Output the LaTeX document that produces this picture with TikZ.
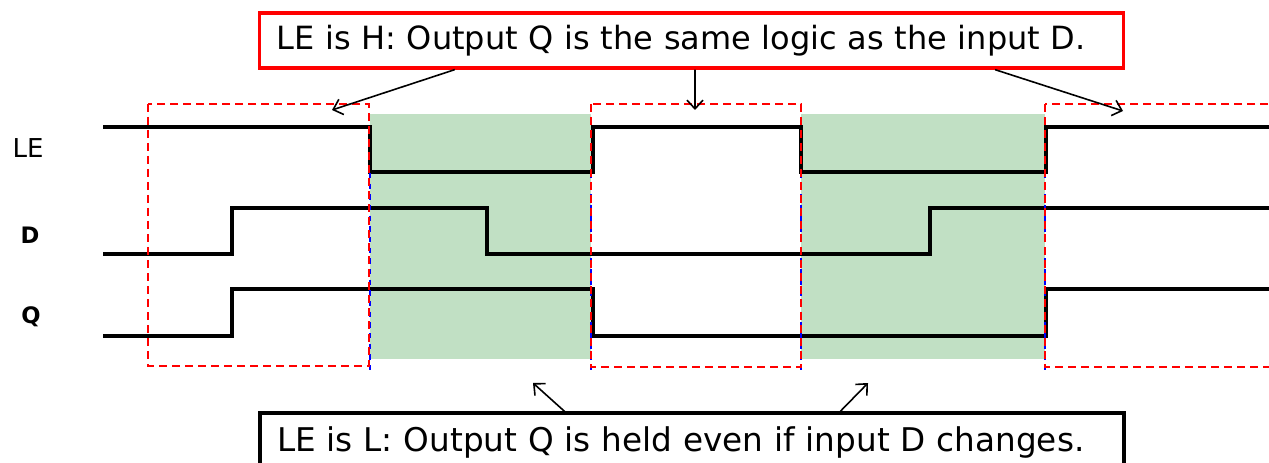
\documentclass[tikz,border=0pt]{standalone}
\usepackage{fontspec}
\setmainfont{DejaVu Sans}
\usetikzlibrary{arrows.meta,calc}
\definecolor{holdgreen}{RGB}{193,224,196}
\tikzset{every picture/.style={line width=0.75pt}}
\tikzset{
	signal/.style={line width=3pt, line join=miter},
	window/.style={draw=red, line width=1.5pt, dash pattern={on 6pt off 3.75pt}},
	edgemark/.style={draw=blue, line width=1pt, dash pattern={on 4pt off 4pt}},
	pointer/.style={line width=1.2pt, -{Straight Barb[length=6.5pt,width=12pt,line width=1.2pt]}},
	notebox/.style={line width=2.5pt, fill=white, inner xsep=12.75pt, text width=622.5pt, align=left, font=\fontsize{24.5}{28}\selectfont},
	siglabel/.style={font=\fontsize{17}{20}\selectfont\bfseries}
}

\begin{document}
\begin{tikzpicture}[x=0.75pt,y=0.75pt,yscale=-1,xscale=1]
	\clip (0,0) rectangle (1269,463);

	%Shape: Rectangle [id:hold1] 
	\fill [holdgreen] (370,114) rectangle (591,359) ;
	%Shape: Rectangle [id:hold2] 
	\fill [holdgreen] (801,114) rectangle (1045,359) ;

	%Straight Lines [id:sigLE] 
	\draw [signal] (103,127) -- (370,127) -- (370,172) -- (593,172) -- (593,127) -- (801,127) -- (801,172) -- (1046,172) -- (1046,127) -- (1275,127) ;
	%Straight Lines [id:sigD] 
	\draw [signal] (103,254) -- (232,254) -- (232,208) -- (487,208) -- (487,254) -- (930,254) -- (930,208) -- (1275,208) ;
	%Straight Lines [id:sigQ] 
	\draw [signal] (103,336) -- (232,336) -- (232,289) -- (593,289) -- (593,336) -- (1046,336) -- (1046,289) -- (1275,289) ;

	%Straight Lines [id:edge1] 
	\draw [edgemark] (370,173) -- (370,370) ;
	%Straight Lines [id:edge2] 
	\draw [edgemark] (591,173) -- (591,370) ;
	%Straight Lines [id:edge3] 
	\draw [edgemark] (801,173) -- (801,370) ;
	%Straight Lines [id:edge4] 
	\draw [edgemark] (1045,173) -- (1045,370) ;

	%Shape: Rectangle [id:win1] 
	\draw [window] (148,104) rectangle (369,366) ;
	%Shape: Rectangle [id:win2] 
	\draw [window] (591,104) rectangle (801,367) ;
	%Shape: Rectangle [id:win3] 
	\draw [window] (1045,104) rectangle (1290,367) ;

	% Text Node
	\node [font=\fontsize{19.5}{22}\selectfont] (labLE) at (28,148) {LE};
	% Text Node
	\node [siglabel] (labD) at (30,235) {D};
	% Text Node
	\node [siglabel] (labQ) at (31,317) {Q};

	% Text Node
	\node [notebox, font=\fontsize{24}{28}\selectfont, draw=red, minimum height=41.25pt] (hbox) at (691.5,40.5) {LE is H: Output Q is the same logic as the input D.};
	% Text Node
	\node [notebox, draw=black, minimum height=43.5pt] (lbox) at (692,442) {LE is L: Output Q is held even if input D changes.};

	\coordinate (tipA) at (332,110);
	\coordinate (tipB) at (695,110);
	\coordinate (tipC) at (1123,111);
	\coordinate (tipD) at (533,383);
	\coordinate (tipE) at (868,383);

	%Straight Lines [id:arrA] 
	\draw [pointer] ($(hbox.south west)!0.227!(hbox.south east)$) -- (tipA) ;
	%Straight Lines [id:arrB] 
	\draw [pointer] ($(hbox.south west)!0.504!(hbox.south east)$) -- (tipB) ;
	%Straight Lines [id:arrC] 
	\draw [pointer] ($(hbox.south west)!0.850!(hbox.south east)$) -- (tipC) ;
	%Straight Lines [id:arrD] 
	\draw [pointer] ($(lbox.north west)!0.353!(lbox.north east)$) -- (tipD) ;
	%Straight Lines [id:arrE] 
	\draw [pointer] ($(lbox.north west)!0.671!(lbox.north east)$) -- (tipE) ;

\end{tikzpicture}
\end{document}
